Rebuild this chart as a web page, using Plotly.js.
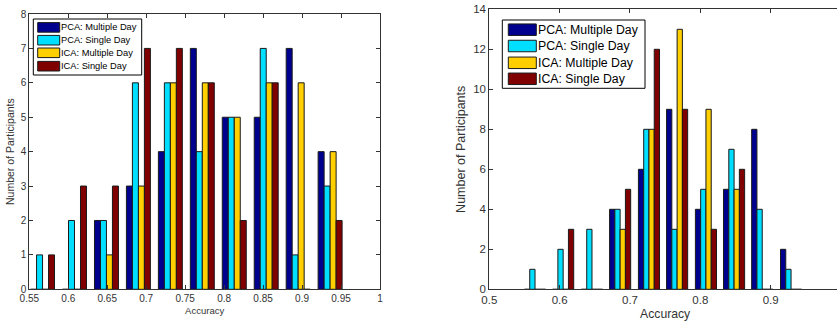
<!DOCTYPE html>
<html>
<head>
<meta charset="utf-8">
<script src="https://cdn.plot.ly/plotly-3.0.1.min.js"></script>
<style>
html, body { margin: 0; padding: 0; overflow: hidden; background: #fff; }
#chart { width: 842px; height: 325px; }
</style>
</head>
<body>
<div id="chart"></div>
<script>
// ---- data ----
const seriesNames = ["PCA: Multiple Day", "PCA: Single Day", "ICA: Multiple Day", "ICA: Single Day"];

// Left panel
const leftCenters = [0.567, 0.608, 0.649, 0.690, 0.731, 0.772, 0.813, 0.854, 0.895, 0.936];
const leftPcaMulti  = [0, 0, 2, 3, 4, 7, 5, 5, 7, 4];
const leftPcaSingle = [1, 2, 2, 6, 6, 4, 5, 7, 1, 3];
const leftIcaMulti  = [0, 0, 1, 3, 6, 6, 5, 6, 6, 4];
const leftIcaSingle = [1, 3, 3, 7, 7, 6, 2, 6, 0, 2];
const leftXTicks = [0.55, 0.6, 0.65, 0.7, 0.75, 0.8, 0.85, 0.9, 0.95, 1];
const leftXTickText = ["0.55", "0.6", "0.65", "0.7", "0.75", "0.8", "0.85", "0.9", "0.95", "1"];

// Right panel
const rightCenters = [0.565, 0.605, 0.646, 0.686, 0.727, 0.767, 0.808, 0.848, 0.888, 0.929];
const rightPcaMulti  = [0, 0, 0, 4, 6, 9, 4, 5, 8, 2];
const rightPcaSingle = [1, 2, 3, 4, 8, 3, 5, 7, 4, 1];
const rightIcaMulti  = [0, 0, 0, 3, 8, 13, 9, 5, 0, 0];
const rightIcaSingle = [0, 3, 0, 5, 12, 9, 3, 6, 0, 0];
const rightXTicks = [0.5, 0.6, 0.7, 0.8, 0.9, 1.0];
const rightXTickText = ["0.5", "0.6", "0.7", "0.8", "0.9", "1"];

const xTitle = "Accuracy";
const yTitle = "Number of Participants";

// ---- styling ----
const colors = ["rgb(0,0,143)", "rgb(0,223,255)", "rgb(255,207,0)", "rgb(128,0,0)"];
const W = 842, H = 325;
const FONT = "Liberation Sans, Arial, sans-serif";
const px = x => x / W;
const py = y => 1 - y / H;

const leftSeries = [leftPcaMulti, leftPcaSingle, leftIcaMulti, leftIcaSingle];
const rightSeries = [rightPcaMulti, rightPcaSingle, rightIcaMulti, rightIcaSingle];

const traces = [];
leftSeries.forEach((vals, i) => traces.push({
  type: "bar", x: leftCenters, y: vals, name: seriesNames[i],
  xaxis: "x", yaxis: "y", showlegend: false,
  marker: { color: colors[i], line: { color: "#1a1a1a", width: 1 } },
  hoverinfo: "x+y+name"
}));
rightSeries.forEach((vals, i) => traces.push({
  type: "bar", x: rightCenters, y: vals, name: seriesNames[i],
  xaxis: "x2", yaxis: "y2", showlegend: false,
  marker: { color: colors[i], line: { color: "#1a1a1a", width: 1 } },
  hoverinfo: "x+y+name"
}));

const axCommon = {
  showgrid: false, zeroline: false, showline: true, linecolor: "#333", linewidth: 1,
  mirror: "ticks", ticks: "inside", tickcolor: "#333", tickwidth: 1,
  fixedrange: true
};

// legends drawn as shapes + text
const shapes = [], annotations = [];
function addLegend(box, swX0, swX1, rowCenters, swH, textX, fontSize) {
  shapes.push({ type: "rect", xref: "paper", yref: "paper",
    x0: px(box[0]), x1: px(box[1]), y0: py(box[3]), y1: py(box[2]),
    line: { color: "#000", width: 1 }, fillcolor: "#fff", layer: "above" });
  rowCenters.forEach((cy, i) => {
    shapes.push({ type: "rect", xref: "paper", yref: "paper",
      x0: px(swX0), x1: px(swX1), y0: py(cy + swH / 2), y1: py(cy - swH / 2),
      line: { color: "#1a1a1a", width: 1 }, fillcolor: colors[i], layer: "above" });
    annotations.push({ xref: "paper", yref: "paper", x: px(textX), y: py(cy),
      xanchor: "left", yanchor: "middle", showarrow: false, text: seriesNames[i],
      borderpad: 0, font: { family: FONT, size: fontSize, color: "#000" } });
  });
}
addLegend([33.3, 141.7, 19, 75], 37.7, 59.7, [27.4, 40.2, 52.8, 66.2], 9.6, 59.5, 9.3);
addLegend([502.3, 645, 20, 88.3], 508.3, 536.3, [29.7, 46.0, 62.8, 78.8], 11.5, 536.5, 12.3);

const layout = {
  width: W, height: H,
  margin: { l: 0, r: 0, t: 0, b: 0 },
  paper_bgcolor: "#fff", plot_bgcolor: "#fff",
  font: { family: FONT, color: "#333" },
  barmode: "group", bargap: 0.25, bargroupgap: 0,
  showlegend: false,
  xaxis: Object.assign({}, axCommon, {
    domain: [px(29.3), px(380)], range: [0.55, 1], anchor: "y",
    tickmode: "array", tickvals: leftXTicks, ticktext: leftXTickText, ticklen: 4,
    tickfont: { family: FONT, size: 10, color: "#333" },
    title: { text: xTitle, font: { family: FONT, size: 9.5, color: "#333" }, standoff: 4 }
  }),
  yaxis: Object.assign({}, axCommon, {
    domain: [py(289.3), py(14)], range: [0, 8], anchor: "x",
    tickmode: "linear", tick0: 0, dtick: 1, ticklen: 4,
    tickfont: { family: FONT, size: 10, color: "#333" },
    title: { text: yTitle, font: { family: FONT, size: 10.5, color: "#333" }, standoff: 4 }
  }),
  xaxis2: Object.assign({}, axCommon, {
    domain: [px(489.3), px(841)], range: [0.5, 1], anchor: "y2",
    tickmode: "array", tickvals: rightXTicks, ticktext: rightXTickText, ticklen: 4,
    tickfont: { family: FONT, size: 11.5, color: "#333" },
    title: { text: xTitle, font: { family: FONT, size: 12.2, color: "#333" }, standoff: 4 }
  }),
  yaxis2: Object.assign({}, axCommon, {
    domain: [py(289.3), py(9.3)], range: [0, 14], anchor: "x2",
    tickmode: "linear", tick0: 0, dtick: 2, ticklen: 4,
    tickfont: { family: FONT, size: 11.5, color: "#333" },
    title: { text: yTitle, font: { family: FONT, size: 12.5, color: "#333" }, standoff: 4 }
  }),
  shapes: shapes,
  annotations: annotations
};

Plotly.newPlot("chart", traces, layout, { displayModeBar: false, staticPlot: true });
</script>
</body>
</html>
